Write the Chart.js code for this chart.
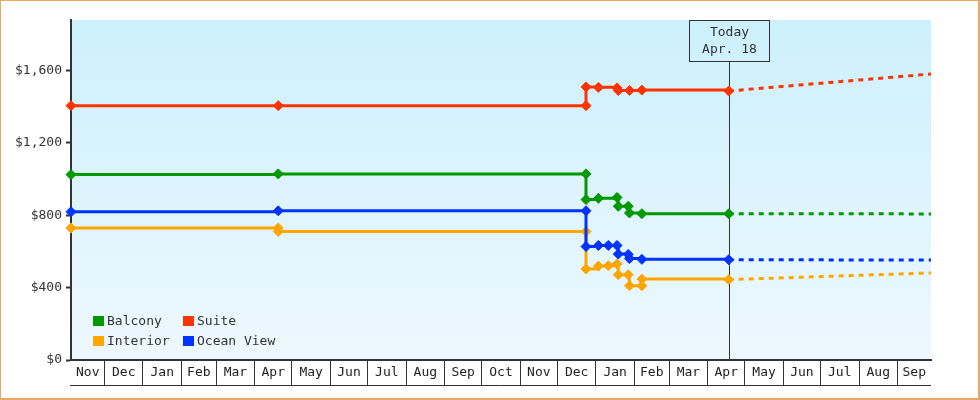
<!DOCTYPE html>
<html>
<head>
<meta charset="utf-8">
<title>Cabin price history</title>
<script src="https://cdn.jsdelivr.net/npm/chart.js@4.4.1/dist/chart.umd.min.js"></script>
<style>
  html, body { margin: 0; padding: 0; background: #fff; }
  #frame {
    width: 980px; height: 400px; box-sizing: border-box;
    border-style: solid; border-color: #e9a864; border-width: 1px 2px 2px 1px;
  }
  #wrap { position: relative; width: 977px; height: 397px; }
</style>
</head>
<body>
<div id="frame"><div id="wrap"><canvas id="priceChart"></canvas></div></div>
<script>
// axis range + today marker
var axisStart = "2024-11-04";
var axisEnd = "2026-09-28";
var todayDate = "2026-04-18";
var todayText = ["Today", "Apr. 18"];
var yMax = 1878;
var yTicks = [0, 400, 800, 1200, 1600];

// month strip under the plot
var monthStarts = [
  "2024-11-01", "2024-12-01", "2025-01-01", "2025-02-01", "2025-03-01", "2025-04-01",
  "2025-05-01", "2025-06-01", "2025-07-01", "2025-08-01", "2025-09-01", "2025-10-01",
  "2025-11-01", "2025-12-01", "2026-01-01", "2026-02-01", "2026-03-01", "2026-04-01",
  "2026-05-01", "2026-06-01", "2026-07-01", "2026-08-01", "2026-09-01"
];
var monthLabels = [
  "Nov", "Dec", "Jan", "Feb", "Mar", "Apr", "May", "Jun", "Jul", "Aug", "Sep", "Oct",
  "Nov", "Dec", "Jan", "Feb", "Mar", "Apr", "May", "Jun", "Jul", "Aug", "Sep"
];

// price history
var suiteDates = ["2024-11-04", "2025-04-20", "2025-12-24", "2025-12-24", "2026-01-03",
  "2026-01-18", "2026-01-19", "2026-01-28", "2026-02-07", "2026-04-18"];
var suitePrices = [1405, 1405, 1405, 1508, 1506, 1503, 1489, 1489, 1491, 1486];

var balconyDates = ["2024-11-04", "2025-04-20", "2025-12-24", "2025-12-24", "2026-01-03",
  "2026-01-18", "2026-01-19", "2026-01-27", "2026-01-28", "2026-02-07", "2026-04-18"];
var balconyPrices = [1024, 1028, 1028, 886, 893, 898, 849, 849, 812, 808, 808];

var oceanDates = ["2024-11-04", "2025-04-20", "2025-12-24", "2025-12-24", "2026-01-03",
  "2026-01-11", "2026-01-18", "2026-01-19", "2026-01-27", "2026-01-28", "2026-02-07", "2026-04-18"];
var oceanPrices = [819, 824, 824, 627, 633, 633, 633, 585, 583, 560, 556, 554];

var interiorDates = ["2024-11-04", "2025-04-20", "2025-04-20", "2025-12-24", "2025-12-24",
  "2026-01-03", "2026-01-11", "2026-01-18", "2026-01-19", "2026-01-27", "2026-01-28",
  "2026-02-07", "2026-02-07", "2026-04-18"];
var interiorPrices = [729, 729, 710, 710, 503, 519, 521, 530, 471, 471, 410, 410, 447, 444];

// forecast (dashed)
var forecastDates = ["2026-04-18", "2026-09-28"];
var suiteForecast = [1486, 1580];
var balconyForecast = [808, 807];
var oceanForecast = [554, 552];
var interiorForecast = [444, 481];

var legendLabels = ["Balcony", "Suite", "Interior", "Ocean View"];
var colors = { "Suite": "#ff3300", "Balcony": "#009900", "Ocean View": "#0033ff", "Interior": "#ffa500" };

var FONT = "'DejaVu Sans Mono', monospace";
var INK = "#333333";

function day(s) {
  return Date.parse(s + "T00:00:00Z") / 86400000;
}

function points(dates, values) {
  return dates.map(function (d, i) { return { x: day(d), y: values[i] }; });
}

// month boundaries get a separator, month middles get the label
var xMin = day(axisStart), xMax = day(axisEnd);
var monthTicks = [];
var labelAt = {};
monthStarts.forEach(function (m, i) {
  var start = day(m);
  var end = i + 1 < monthStarts.length ? day(monthStarts[i + 1]) : xMax;
  if (start > xMin) monthTicks.push({ value: start });
  var mid = (Math.max(start, xMin) + Math.min(end, xMax)) / 2;
  labelAt[mid] = monthLabels[i];
  monthTicks.push({ value: mid });
});
monthTicks.sort(function (a, b) { return a.value - b.value; });

function line(label, dates, values) {
  return {
    label: label,
    data: points(dates, values),
    borderColor: colors[label],
    backgroundColor: colors[label],
    borderWidth: 3,
    stepped: true,
    pointStyle: "rectRot",
    pointRadius: 5,
    pointBorderWidth: 1,
    clip: false
  };
}

function forecast(label, values) {
  return {
    label: label + " forecast",
    data: points(forecastDates, values),
    borderColor: colors[label],
    borderWidth: 3,
    borderDash: [5, 5],
    pointRadius: 0,
    clip: false
  };
}

var backdrop = {
  id: "backdrop",
  beforeDraw: function (chart) {
    var a = chart.chartArea, ctx = chart.ctx;
    var g = ctx.createLinearGradient(0, a.top, 0, a.bottom);
    g.addColorStop(0, "#ccf0fd");
    g.addColorStop(1, "#eef8fe");
    ctx.save();
    ctx.fillStyle = g;
    ctx.fillRect(a.left, a.top, a.right - a.left, a.bottom - a.top);
    ctx.restore();
  }
};

var todayMarker = {
  id: "todayMarker",
  beforeDatasetsDraw: function (chart) {
    var a = chart.chartArea, ctx = chart.ctx;
    var x = Math.round(chart.scales.x.getPixelForValue(day(todayDate))) + 0.5;
    ctx.save();
    ctx.strokeStyle = INK;
    ctx.lineWidth = 1;
    ctx.strokeRect(x - 40, a.top + 0.5, 80, 41);
    ctx.beginPath();
    ctx.moveTo(x, a.top + 41.5);
    ctx.lineTo(x, a.bottom);
    ctx.stroke();
    ctx.fillStyle = INK;
    ctx.font = "13px " + FONT;
    ctx.textAlign = "center";
    ctx.textBaseline = "middle";
    ctx.fillText(todayText[0], x, a.top + 13);
    ctx.fillText(todayText[1], x, a.top + 30);
    ctx.restore();
  }
};

var cornerLegend = {
  id: "cornerLegend",
  afterDraw: function (chart) {
    var a = chart.chartArea, ctx = chart.ctx;
    var xs = chart.scales.x;
    ctx.save();
    // line under the month strip
    ctx.strokeStyle = INK;
    ctx.lineWidth = 1;
    ctx.beginPath();
    ctx.moveTo(a.left - 1, xs.bottom + 0.5);
    ctx.lineTo(a.right, xs.bottom + 0.5);
    ctx.stroke();

    ctx.font = "13px " + FONT;
    ctx.textBaseline = "middle";
    legendLabels.forEach(function (name, i) {
      var x = a.left + 22 + (i % 2) * 90;
      var y = a.bottom - 44 + Math.floor(i / 2) * 20;
      ctx.fillStyle = colors[name];
      ctx.fillRect(x, y, 11, 10);
      ctx.fillStyle = INK;
      ctx.fillText(name, x + 14, y + 5.5);
    });
    ctx.restore();
  }
};

var chart = new Chart(document.getElementById("priceChart"), {
  type: "line",
  data: {
    datasets: [
      line("Suite", suiteDates, suitePrices),
      line("Balcony", balconyDates, balconyPrices),
      line("Ocean View", oceanDates, oceanPrices),
      line("Interior", interiorDates, interiorPrices),
      forecast("Suite", suiteForecast),
      forecast("Balcony", balconyForecast),
      forecast("Ocean View", oceanForecast),
      forecast("Interior", interiorForecast)
    ]
  },
  options: {
    responsive: true,
    maintainAspectRatio: false,
    animation: false,
    layout: { padding: { left: 0, top: 19, right: 47, bottom: 13 } },
    plugins: {
      legend: { display: false },
      tooltip: { enabled: false },
      title: { display: false }
    },
    scales: {
      x: {
        type: "linear",
        min: xMin,
        max: xMax,
        afterFit: function (scale) { scale.height = 25; },
        afterBuildTicks: function (scale) { scale.ticks = monthTicks.slice(); },
        border: { display: true, color: INK, width: 2 },
        grid: {
          drawOnChartArea: false,
          drawTicks: true,
          tickLength: 25,
          tickWidth: 1,
          tickColor: function (ctx) {
            return ctx.tick && labelAt[ctx.tick.value] ? "rgba(0,0,0,0)" : INK;
          }
        },
        ticks: {
          autoSkip: false,
          maxRotation: 0,
          padding: -20,
          color: "#222",
          font: { family: FONT, size: 13 },
          callback: function (value) { return labelAt[value] || ""; }
        }
      },
      y: {
        min: 0,
        max: yMax,
        afterFit: function (scale) { scale.width = 70; },
        afterBuildTicks: function (scale) {
          scale.ticks = yTicks.map(function (v) { return { value: v }; });
        },
        border: { display: true, color: INK, width: 2 },
        grid: { drawOnChartArea: false, tickLength: 5, tickWidth: 2, tickColor: INK },
        ticks: {
          padding: 4,
          color: INK,
          font: { family: FONT, size: 13 },
          callback: function (v) { return "$" + v.toLocaleString("en-US"); }
        }
      }
    }
  },
  plugins: [backdrop, todayMarker, cornerLegend]
});
</script>
</body>
</html>
